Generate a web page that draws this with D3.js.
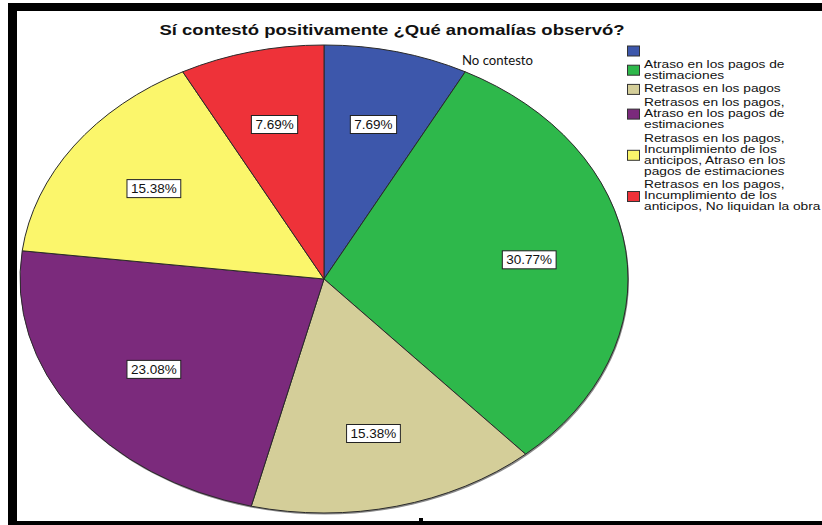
<!DOCTYPE html>
<html>
<head>
<meta charset="utf-8">
<script src="https://cdn.jsdelivr.net/npm/d3@7/dist/d3.min.js"></script>
<style>
  html, body { margin: 0; padding: 0; background: #fff; }
  svg { display: block; }
</style>
</head>
<body>
<script>
// ---- data ----
const title = "Sí contestó positivamente ¿Qué anomalías observó?";
const categories = [
  "",
  "Atraso en los pagos de\nestimaciones",
  "Retrasos en los pagos",
  "Retrasos en los pagos,\nAtraso en los pagos de\nestimaciones",
  "Retrasos en los pagos,\nIncumplimiento de los\nanticipos, Atraso en los\npagos de estimaciones",
  "Retrasos en los pagos,\nIncumplimiento de los\nanticipos, No liquidan la obra"
];
const counts = [1, 4, 2, 3, 2, 1];
const colors = ["#3d57ab", "#2eb84b", "#d4ce99", "#7b2a7c", "#fbf66b", "#ee3239"];
const annotation = "No contesto";

// ---- layout ----
const W = 822, H = 525;
const cx = 324, cy = 279, rx = 304, ry = 234;

const svg = d3.select("body").append("svg")
  .attr("width", W).attr("height", H);
svg.append("rect").attr("width", W).attr("height", H).attr("fill", "#fff");

// frame
svg.append("rect").attr("x", 8).attr("y", 3).attr("width", W - 8).attr("height", 8).attr("fill", "#000");
svg.append("rect").attr("x", 8).attr("y", 3).attr("width", 9).attr("height", H - 3).attr("fill", "#000");
svg.append("rect").attr("x", 8).attr("y", 521).attr("width", W - 8).attr("height", 4).attr("fill", "#000");
svg.append("rect").attr("x", 419).attr("y", 518).attr("width", 4).attr("height", 3).attr("fill", "#000");

// title
svg.append("text")
  .attr("x", 392).attr("y", 35)
  .attr("text-anchor", "middle")
  .attr("font-family", "'Liberation Sans', Arial, sans-serif")
  .attr("font-weight", "bold")
  .attr("font-size", 15.5)
  .attr("textLength", 465)
  .attr("lengthAdjust", "spacingAndGlyphs")
  .attr("fill", "#111")
  .text(title);

// pie
const pie = d3.pie().sort(null).value(d => d);
const arcs = pie(counts);
const arc = d3.arc().innerRadius(0).outerRadius(rx);
const total = d3.sum(counts);
const pct = d3.format(".2f");

const g = svg.append("g")
  .attr("transform", `translate(${cx},${cy}) scale(1,${ry / rx})`);

// soft shadow
g.append("circle").attr("cx", 1).attr("cy", 2).attr("r", rx)
  .attr("fill", "#8a8a8a");

g.selectAll("path.slice").data(arcs).enter().append("path")
  .attr("class", "slice")
  .attr("d", arc)
  .attr("fill", (d, i) => colors[i])
  .attr("stroke", "#2a2a2a")
  .attr("stroke-width", 1)
  .attr("vector-effect", "non-scaling-stroke");

// percent labels
const labelArc = d3.arc().innerRadius(0).outerRadius(rx * 0.68 * 2);
const lg = svg.append("g");
arcs.forEach((d, i) => {
  const [px, py] = labelArc.centroid(d);
  const x = cx + px, y = cy + py * ry / rx;
  const t = lg.append("text")
    .attr("x", x).attr("y", y + 4.5)
    .attr("text-anchor", "middle")
    .attr("font-family", "'Liberation Sans', Arial, sans-serif")
    .attr("font-size", 13.5)
    .attr("fill", "#111")
    .text(pct(d.data / total * 100) + "%");
  const w = t.node().getComputedTextLength() + 8;
  lg.insert("rect", () => t.node())
    .attr("x", x - w / 2).attr("y", y - 9)
    .attr("width", w).attr("height", 18)
    .attr("fill", "#fff").attr("stroke", "#222").attr("stroke-width", 1);
});

// annotation near first slice
svg.append("text")
  .attr("x", 462).attr("y", 65)
  .attr("font-family", "Lato, 'Open Sans', sans-serif")
  .attr("font-size", 14)
  .attr("textLength", 71)
  .attr("lengthAdjust", "spacingAndGlyphs")
  .attr("fill", "#111")
  .text(annotation);

// legend
const legend = svg.append("g");
const lineH = 11, gap = 2.7;
let yTop = 45.5;
categories.forEach((c, i) => {
  const lines = c.split("\n");
  const n = lines.length;
  const h = n * lineH;
  const mid = yTop + h / 2;
  legend.append("rect")
    .attr("x", 627.5).attr("y", mid - 5)
    .attr("width", 12).attr("height", 10)
    .attr("fill", colors[i]).attr("stroke", "#333").attr("stroke-width", 1);
  const base = yTop;
  lines.forEach((ln, j) => {
    if (!ln) return;
    legend.append("text")
      .attr("transform", `translate(644,${base + 8.3 + j * lineH}) scale(1.31,1)`)
      .attr("font-family", "'Liberation Sans', Arial, sans-serif")
      .attr("font-size", 10.5)
      .attr("fill", "#111")
      .text(ln);
  });
  yTop += h + gap;
});
</script>
</body>
</html>
